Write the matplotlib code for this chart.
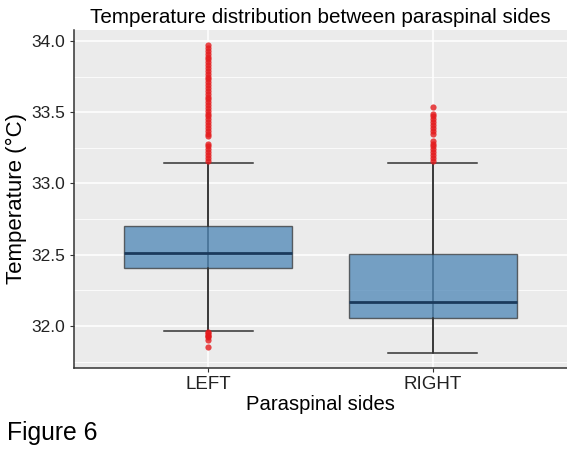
import numpy as np
import matplotlib
matplotlib.use('Agg')
import matplotlib.pyplot as plt
from matplotlib.ticker import MultipleLocator

plt.rcParams['font.family'] = ['Liberation Sans', 'DejaVu Sans']

sides = ['LEFT', 'RIGHT']
q1 = [32.405, 32.056]
med = [32.51, 32.168]
q3 = [32.704, 32.505]
whislo = [31.967, 31.81]
whishi = [33.146, 33.146]

left_out = [33.16, 33.18, 33.20, 33.22, 33.24, 33.26, 33.28,
            33.33, 33.35, 33.37, 33.39, 33.41, 33.43, 33.45, 33.47, 33.49,
            33.51, 33.53, 33.55, 33.57, 33.59, 33.61, 33.63, 33.65, 33.67,
            33.69, 33.71, 33.73, 33.75, 33.77, 33.79, 33.81, 33.83, 33.85,
            33.87, 33.89, 33.91, 33.93, 33.95, 33.97,
            31.96, 31.95, 31.94, 31.93, 31.92, 31.90, 31.85]
right_out = [33.16, 33.18, 33.20, 33.22, 33.24, 33.26, 33.28, 33.30,
             33.35, 33.37, 33.39, 33.41, 33.43, 33.45, 33.47, 33.49, 33.54]

fig = plt.figure(figsize=(5.67, 4.54), dpi=100)
ax = fig.add_axes([74/567, 1-368/454, (567-74)/567, (368-30)/454])
ax.set_facecolor('#EBEBEB')

pos = [1, 2]
stats = [dict(med=med[i], q1=q1[i], q3=q3[i], whislo=whislo[i], whishi=whishi[i],
              fliers=[], label=sides[i]) for i in range(2)]

ax.vlines(pos, whislo, whishi, color='#333333', lw=1.1, zorder=2)
bp = ax.bxp(stats, positions=pos, widths=0.75, patch_artist=True,
            showcaps=True, capwidths=0.4, manage_ticks=False,
            boxprops=dict(facecolor='#4682B4', alpha=0.72, edgecolor='#333333', lw=1.0),
            medianprops=dict(color='#1B3A5C', lw=2.0),
            whiskerprops=dict(color='#333333', lw=1.1),
            capprops=dict(color='#333333', lw=1.1), zorder=3)
for b in bp['boxes']:
    b.set_zorder(3)

ax.scatter([1]*len(left_out), left_out, s=20, color='#E41A1C', alpha=0.8, lw=0, zorder=4)
ax.scatter([2]*len(right_out), right_out, s=20, color='#E41A1C', alpha=0.8, lw=0, zorder=4)

ax.set_xlim(0.4, 2.6)
ax.set_ylim(31.705, 34.077)
ax.set_xticks(pos)
ax.set_xticklabels(sides)
ax.yaxis.set_major_locator(MultipleLocator(0.5))
ax.yaxis.set_minor_locator(MultipleLocator(0.25))
ax.yaxis.set_major_formatter(matplotlib.ticker.FormatStrFormatter('%.1f'))
ax.grid(which='major', color='white', lw=1.1, zorder=0)
ax.grid(which='minor', axis='y', color='white', lw=0.55, zorder=0)
ax.set_axisbelow(True)
ax.tick_params(which='minor', length=0)
ax.tick_params(which='major', length=3, color='#333333', labelcolor='#222222')
ax.tick_params(axis='x', labelsize=13.5, pad=3)
ax.tick_params(axis='y', labelsize=12.5)
for s in ['top', 'right']:
    ax.spines[s].set_visible(False)
for s in ['left', 'bottom']:
    ax.spines[s].set_color('#333333')
    ax.spines[s].set_linewidth(1.1)

ax.set_title('Temperature distribution between paraspinal sides', fontsize=14.9, pad=5)
ax.set_xlabel('Paraspinal sides', fontsize=14.6, labelpad=1)
ax.set_ylabel('Temperature (°C)', fontsize=16, labelpad=3)
fig.text(7/567, 1-433/454, 'Figure 6', fontsize=17.8, va='center', ha='left')

fig.savefig('out.png', dpi=100)
